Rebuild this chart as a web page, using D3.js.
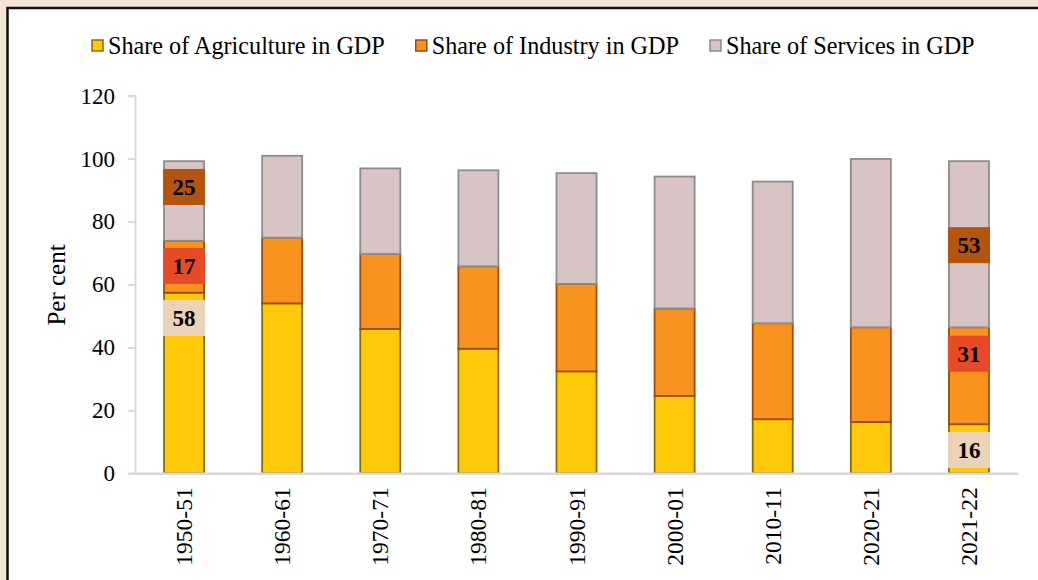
<!DOCTYPE html>
<html>
<head>
<meta charset="utf-8">
<script src="https://cdn.jsdelivr.net/npm/d3@7"></script>
<style>
html,body{margin:0;padding:0;background:#f3e6d6;}
svg{display:block;}
text{font-family:"Liberation Serif","Times New Roman",serif;fill:#000;}
</style>
</head>
<body>
<svg id="chart" width="1038" height="580"></svg>
<script>
// ---- data ----
const categories = ["1950-51","1960-61","1970-71","1980-81","1990-91","2000-01","2010-11","2020-21","2021-22"];
const agriculture = [57.4, 54.0, 45.9, 39.6, 32.4, 24.6, 17.2, 16.3, 15.6];
const industry    = [16.5, 20.9, 23.8, 26.2, 27.8, 27.8, 30.5, 30.1, 30.8];
const services    = [25.3, 26.0, 27.2, 30.5, 35.2, 41.9, 45.0, 53.5, 52.8];
const seriesKeys  = ["agriculture","industry","services"];
const seriesNames = ["Share of Agriculture in GDP","Share of Industry in GDP","Share of Services in GDP"];
const yTicks = [0, 20, 40, 60, 80, 100, 120];
// annotation boxes
const labelCats  = ["1950-51","1950-51","1950-51","2021-22","2021-22","2021-22"];
const labelKeys  = ["agriculture","industry","services","agriculture","industry","services"];
const labelTexts = ["58","17","25","16","31","53"];
const labelAt    = [49.4, 65.9, 91.0, 7.4, 38.0, 72.5];

// ---- styles ----
const fills   = {agriculture:"#ffc90a", industry:"#f7931e", services:"#d8c4c4"};
const strokes = {agriculture:"#8a6d00", industry:"#9c4c0c", services:"#8c8c8c"};
const boxFill = {agriculture:"#ecd3b5", industry:"#e64a26", services:"#b4540f"};

const svg = d3.select("#chart");

// panel
svg.append("rect").attr("x",7.5).attr("y",8).attr("width",1100).attr("height",700)
  .attr("fill","#fff").attr("stroke","#111").attr("stroke-width",2.5);

const x = d3.scaleBand().domain(categories).range([135,1018]).paddingInner(0.592).paddingOuter(0.296);
const y = d3.scaleLinear().domain([0,120]).range([473.3,95.7]);

const rows = categories.map((c,i)=>({cat:c, agriculture:agriculture[i], industry:industry[i], services:services[i]}));
const stacked = d3.stack().keys(seriesKeys)(rows);

// y axis
const yAxis = svg.append("g").attr("transform","translate(135,0)")
  .call(d3.axisLeft(y).tickValues(yTicks).tickSize(7).tickPadding(13).tickFormat(d3.format("d")));
yAxis.select(".domain").attr("stroke","#d9d9d9").attr("stroke-width",2);
yAxis.selectAll(".tick line").attr("stroke","#d9d9d9").attr("stroke-width",2);
yAxis.selectAll(".tick text").attr("font-size",23).attr("font-family","Liberation Serif").attr("fill","#000");

// bars
const g = svg.append("g");
stacked.forEach(s=>{
  g.append("g").selectAll("rect").data(s).join("rect")
    .attr("x",d=>x(d.data.cat))
    .attr("width",x.bandwidth())
    .attr("y",d=>y(d[1]))
    .attr("height",d=>y(d[0])-y(d[1]))
    .attr("fill",fills[s.key])
    .attr("stroke",strokes[s.key])
    .attr("stroke-width",1.8);
});

// x axis
const xAxis = svg.append("g").attr("transform","translate(0,473.3)")
  .call(d3.axisBottom(x).tickSize(0).tickPadding(0));
xAxis.select(".domain").attr("stroke","#d9d9d9").attr("stroke-width",2.5);
xAxis.selectAll(".tick text")
  .attr("font-size",23.5).attr("font-family","Liberation Serif").attr("fill","#000")
  .attr("text-anchor","end")
  .attr("transform","translate(0,14) rotate(-90)")
  .attr("x",0).attr("y",0).attr("dy","0.34em");

// annotation boxes
const bh = 36;
labelTexts.forEach((t,i)=>{
  const cx = x(labelCats[i]) + x.bandwidth()/2;
  const cy = y(labelAt[i]);
  svg.append("rect").attr("x",cx-x.bandwidth()/2-1).attr("y",cy-bh/2)
    .attr("width",x.bandwidth()+2).attr("height",bh).attr("fill",boxFill[labelKeys[i]]);
  svg.append("text").attr("x",cx).attr("y",cy).attr("dy","0.34em")
    .attr("text-anchor","middle").attr("font-size",23).attr("font-weight","bold").text(t);
});

// y title
svg.append("text").attr("transform","translate(65,285) rotate(-90)")
  .attr("text-anchor","middle").attr("font-size",25).text("Per cent");

// legend
let lx = 92;
const legend = svg.append("g");
seriesKeys.forEach((k,i)=>{
  legend.append("rect").attr("x",lx).attr("y",40).attr("width",11).attr("height",11)
    .attr("fill",fills[k]).attr("stroke",strokes[k]).attr("stroke-width",1.5);
  const t = legend.append("text").attr("x",lx+16).attr("y",54).attr("font-size",24.2).text(seriesNames[i]);
  lx += 16 + t.node().getComputedTextLength() + 31;
});
</script>
</body>
</html>
